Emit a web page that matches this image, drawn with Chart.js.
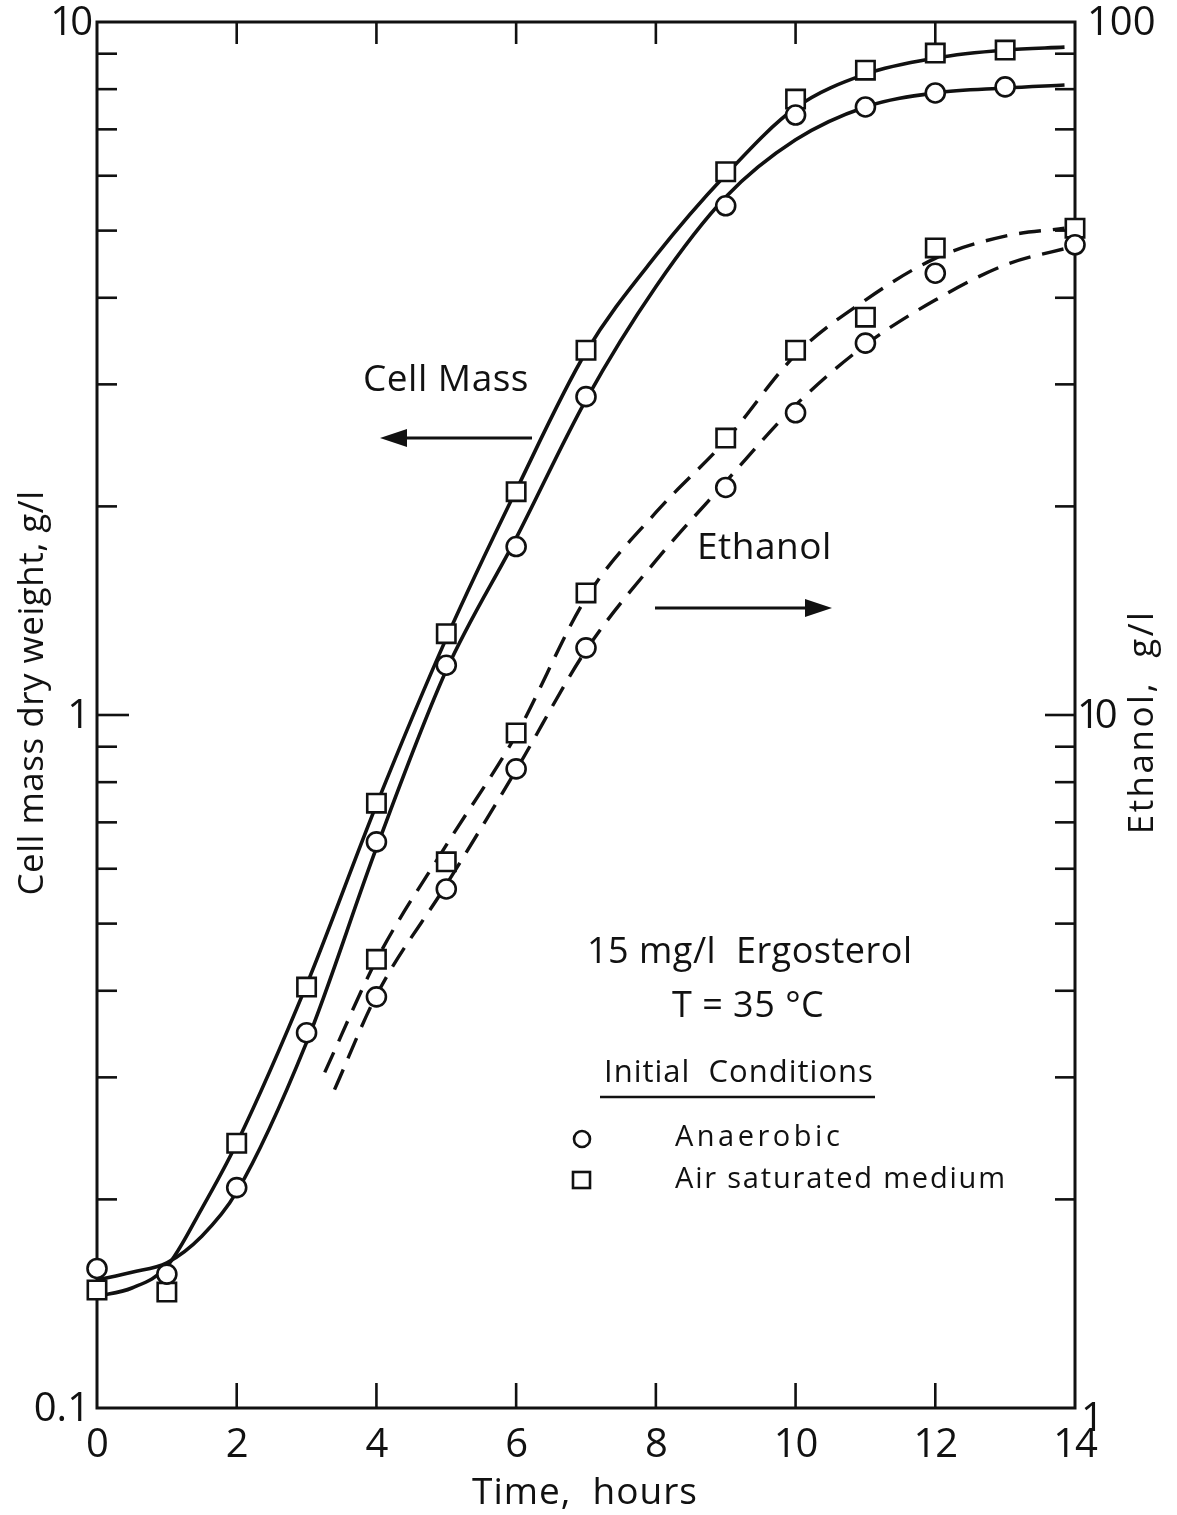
<!DOCTYPE html>
<html>
<head>
<meta charset="utf-8">
<title>Cell mass and ethanol, 15 mg/l ergosterol</title>
<script src="https://cdn.jsdelivr.net/npm/chart.js@4.4.1/dist/chart.umd.min.js"></script>
<style>
  html, body { margin: 0; padding: 0; background: #fff; }
  #wrap { width: 1177px; height: 1515px; }
</style>
</head>
<body>
<div id="wrap"><canvas id="growthChart" width="1177" height="1515"></canvas></div>
<script>
const sampleHours = [0, 1, 2, 3, 4, 5, 6, 7, 9, 10, 11, 12, 13];
const cellAnaerobic = [0.159, 0.156, 0.208, 0.348, 0.656, 1.18, 1.75, 2.88, 5.43, 7.34, 7.54, 7.90, 8.06];
const cellAir = [0.148, 0.147, 0.241, 0.405, 0.746, 1.31, 2.10, 3.36, 6.08, 7.74, 8.52, 9.02, 9.11];

const ethanolHours = [4, 5, 6, 7, 9, 10, 11, 12, 14];
const ethanolAnaerobic = [3.92, 5.61, 8.36, 12.5, 21.3, 27.3, 34.4, 43.4, 47.7];
const ethanolAir = [4.44, 6.14, 9.42, 15.0, 25.1, 33.6, 37.5, 47.2, 50.4];

// ---- hand-drawn smooth curves ----
const cellCurveHours = [0, 0.5, 1, 1.5, 2, 3, 4, 5, 6, 7, 8, 9, 10, 11, 12, 13, 13.85];
const cellAnaerobicCurve = [0.153, 0.157, 0.162, 0.177, 0.205, 0.337, 0.643, 1.16, 1.80, 2.85, 4.15, 5.59, 6.76, 7.54, 7.90, 8.03, 8.11];
const cellAirCurve = [0.145, 0.149, 0.160, 0.194, 0.241, 0.408, 0.742, 1.29, 2.11, 3.34, 4.60, 6.02, 7.52, 8.41, 8.87, 9.11, 9.20];

const ethAirCurveHours = [3.26, 4, 5, 6, 7, 8, 9, 10, 11, 12, 13, 13.85];
const ethanolAirCurve = [3.05, 4.43, 6.49, 9.36, 14.75, 19.6, 24.9, 33.1, 39.7, 45.6, 49.1, 50.4];
const ethAnaCurveHours = [3.4, 4, 5, 6, 7, 8, 9, 10, 11, 12, 13, 14];
const ethanolAnaerobicCurve = [2.88, 3.94, 5.69, 8.33, 12.4, 16.7, 21.7, 28.0, 34.2, 39.7, 44.6, 47.5];

// ---- axes ----
const xTickHours = [0, 2, 4, 6, 8, 10, 12, 14];
const leftTickValues = [0.1, 1, 10];
const leftTickLabels = ["0.1", "1", "10"];
const rightTickValues = [1, 10, 100];
const rightTickLabels = ["1", "10", "100"];
const minorSteps = [2, 3, 4, 5, 6, 7, 8, 9];

const ink = "#111";
const font = "'Open Sans', 'DejaVu Sans', sans-serif";

function pts(xs, ys) {
  return xs.map((x, i) => ({ x: x, y: ys[i] }));
}

function markers(xs, ys, style, radius, axis) {
  return {
    data: pts(xs, ys),
    yAxisID: axis,
    showLine: false,
    pointStyle: style,
    pointRadius: radius,
    pointBorderWidth: 2.6,
    pointBorderColor: ink,
    pointBackgroundColor: "#fff",
    clip: false,
    order: 0,
  };
}

function curve(xs, ys, axis, dashed) {
  return {
    data: pts(xs, ys),
    yAxisID: axis,
    showLine: true,
    borderColor: ink,
    borderWidth: dashed ? 3.4 : 3.6,
    borderDash: dashed ? [22, 12] : [],
    cubicInterpolationMode: "monotone",
    pointRadius: 0,
    clip: false,
    order: 1,
  };
}

function text(ctx, str, x, y, size, align, spacing) {
  ctx.font = size + "px " + font;
  ctx.textAlign = align || "left";
  ctx.textBaseline = "middle";
  ctx.letterSpacing = (spacing || 0) + "px";
  ctx.fillText(str, x, y);
}

function seg(ctx, x1, y1, x2, y2) {
  ctx.beginPath();
  ctx.moveTo(x1, y1);
  ctx.lineTo(x2, y2);
  ctx.stroke();
}

function arrow(ctx, x1, x2, y) {
  const dir = x2 > x1 ? 1 : -1;
  ctx.lineWidth = 3;
  seg(ctx, x1, y, x2 - dir * 20, y);
  ctx.beginPath();
  ctx.moveTo(x2, y);
  ctx.lineTo(x2 - dir * 27, y - 9);
  ctx.lineTo(x2 - dir * 27, y + 9);
  ctx.closePath();
  ctx.fill();
}

// frame, inward ticks and all texts
const frame = {
  id: "frame",
  beforeDatasetsDraw(chart) {
    const { ctx, chartArea: a, scales } = chart;
    const x = scales.x, y = scales.y, y2 = scales.y2;
    ctx.save();
    ctx.strokeStyle = ink;
    ctx.lineWidth = 3;
    ctx.strokeRect(a.left, a.top, a.right - a.left, a.bottom - a.top);

    ctx.lineWidth = 2.6;
    xTickHours.forEach((h) => {
      if (h === 0 || h === 14) return;
      const px = x.getPixelForValue(h);
      seg(ctx, px, a.top, px, a.top + 22);
      seg(ctx, px, a.bottom, px, a.bottom - 25);
    });

    [0.1, 1].forEach((dec) => {
      minorSteps.forEach((m) => {
        const py = y.getPixelForValue(dec * m);
        seg(ctx, a.left, py, a.left + 20, py);
      });
    });
    seg(ctx, a.left, y.getPixelForValue(1), a.left + 32, y.getPixelForValue(1));

    [1, 10].forEach((dec) => {
      minorSteps.forEach((m) => {
        const py = y2.getPixelForValue(dec * m);
        seg(ctx, a.right, py, a.right - 20, py);
      });
    });
    seg(ctx, a.right, y2.getPixelForValue(10), a.right - 30, y2.getPixelForValue(10));
    ctx.restore();
  },
  afterDraw(chart) {
    const { ctx, chartArea: a, scales } = chart;
    const x = scales.x, y = scales.y, y2 = scales.y2;
    ctx.save();
    ctx.fillStyle = ink;
    ctx.strokeStyle = ink;

    // tick labels
    xTickHours.forEach((h) => {
      text(ctx, String(h), x.getPixelForValue(h), a.bottom + 38, 40, "center", -1);
    });
    leftTickValues.forEach((v, i) => {
      const py = y.getPixelForValue(v);
      text(ctx, leftTickLabels[i], a.left - 7, py + 2, 40, "right", v === 10 ? -3 : 0);
    });
    rightTickValues.forEach((v, i) => {
      let py = y2.getPixelForValue(v);
      let px = a.right + 12;
      let sp = 0;
      if (v === 1) { py += 10; px = a.right + 6; }
      if (v === 10) { px = a.right + 2; sp = -5; }
      text(ctx, rightTickLabels[i], px, py + 2, 40, "left", sp);
    });

    // axis titles
    text(ctx, "Time,  hours", 585, 1493, 37, "center", 1);
    ctx.save();
    ctx.translate(33, 693);
    ctx.rotate(-Math.PI / 2);
    text(ctx, "Cell mass dry weight, g/l", 0, 0, 35, "center", 0.5);
    ctx.restore();
    ctx.save();
    ctx.translate(1143, 722);
    ctx.rotate(-Math.PI / 2);
    text(ctx, "Ethanol,  g/l", 0, 0, 35, "center", 2.5);
    ctx.restore();

    // annotations
    text(ctx, "Cell Mass", 363, 380, 37, "left", 0.5);
    arrow(ctx, 532, 380, 438);
    text(ctx, "Ethanol", 697, 548, 37, "left", 0.5);
    arrow(ctx, 655, 832, 608);

    text(ctx, "15 mg/l  Ergosterol", 587, 953, 36, "left", 0.5);
    text(ctx, "T = 35 °C", 672, 1007, 36, "left", 0.5);
    text(ctx, "Initial  Conditions", 604, 1073, 31, "left", 1);
    ctx.lineWidth = 2.6;
    seg(ctx, 600, 1097, 875, 1097);

    // key
    ctx.lineWidth = 2.6;
    ctx.beginPath();
    ctx.arc(582, 1139, 8, 0, Math.PI * 2);
    ctx.stroke();
    ctx.strokeRect(573, 1172, 17, 16);
    text(ctx, "Anaerobic", 675, 1138, 29, "left", 3.5);
    text(ctx, "Air saturated medium", 675, 1180, 29, "left", 1.8);
    ctx.restore();
  },
};

const ctx = document.getElementById("growthChart");

const growthChart = new Chart(ctx, {
  type: "scatter",
  data: {
    datasets: [
      markers(sampleHours, cellAnaerobic, "circle", 9.5, "y"),
      markers(sampleHours, cellAir, "rect", 13, "y"),
      markers(ethanolHours, ethanolAnaerobic, "circle", 9.5, "y2"),
      markers(ethanolHours, ethanolAir, "rect", 13, "y2"),
      curve(cellCurveHours, cellAnaerobicCurve, "y", false),
      curve(cellCurveHours, cellAirCurve, "y", false),
      curve(ethAnaCurveHours, ethanolAnaerobicCurve, "y2", true),
      curve(ethAirCurveHours, ethanolAirCurve, "y2", true),
    ],
  },
  options: {
    responsive: false,
    animation: false,
    events: [],
    layout: {
      autoPadding: false,
      padding: { left: 97, right: 102, top: 22, bottom: 107 },
    },
    plugins: {
      legend: { display: false },
      tooltip: { enabled: false },
    },
    scales: {
      x: { type: "linear", min: 0, max: 14, display: false },
      y: { type: "logarithmic", min: 0.1, max: 10, display: false },
      y2: { type: "logarithmic", min: 1, max: 100, display: false, position: "right" },
    },
  },
  plugins: [frame],
});
</script>
</body>
</html>
